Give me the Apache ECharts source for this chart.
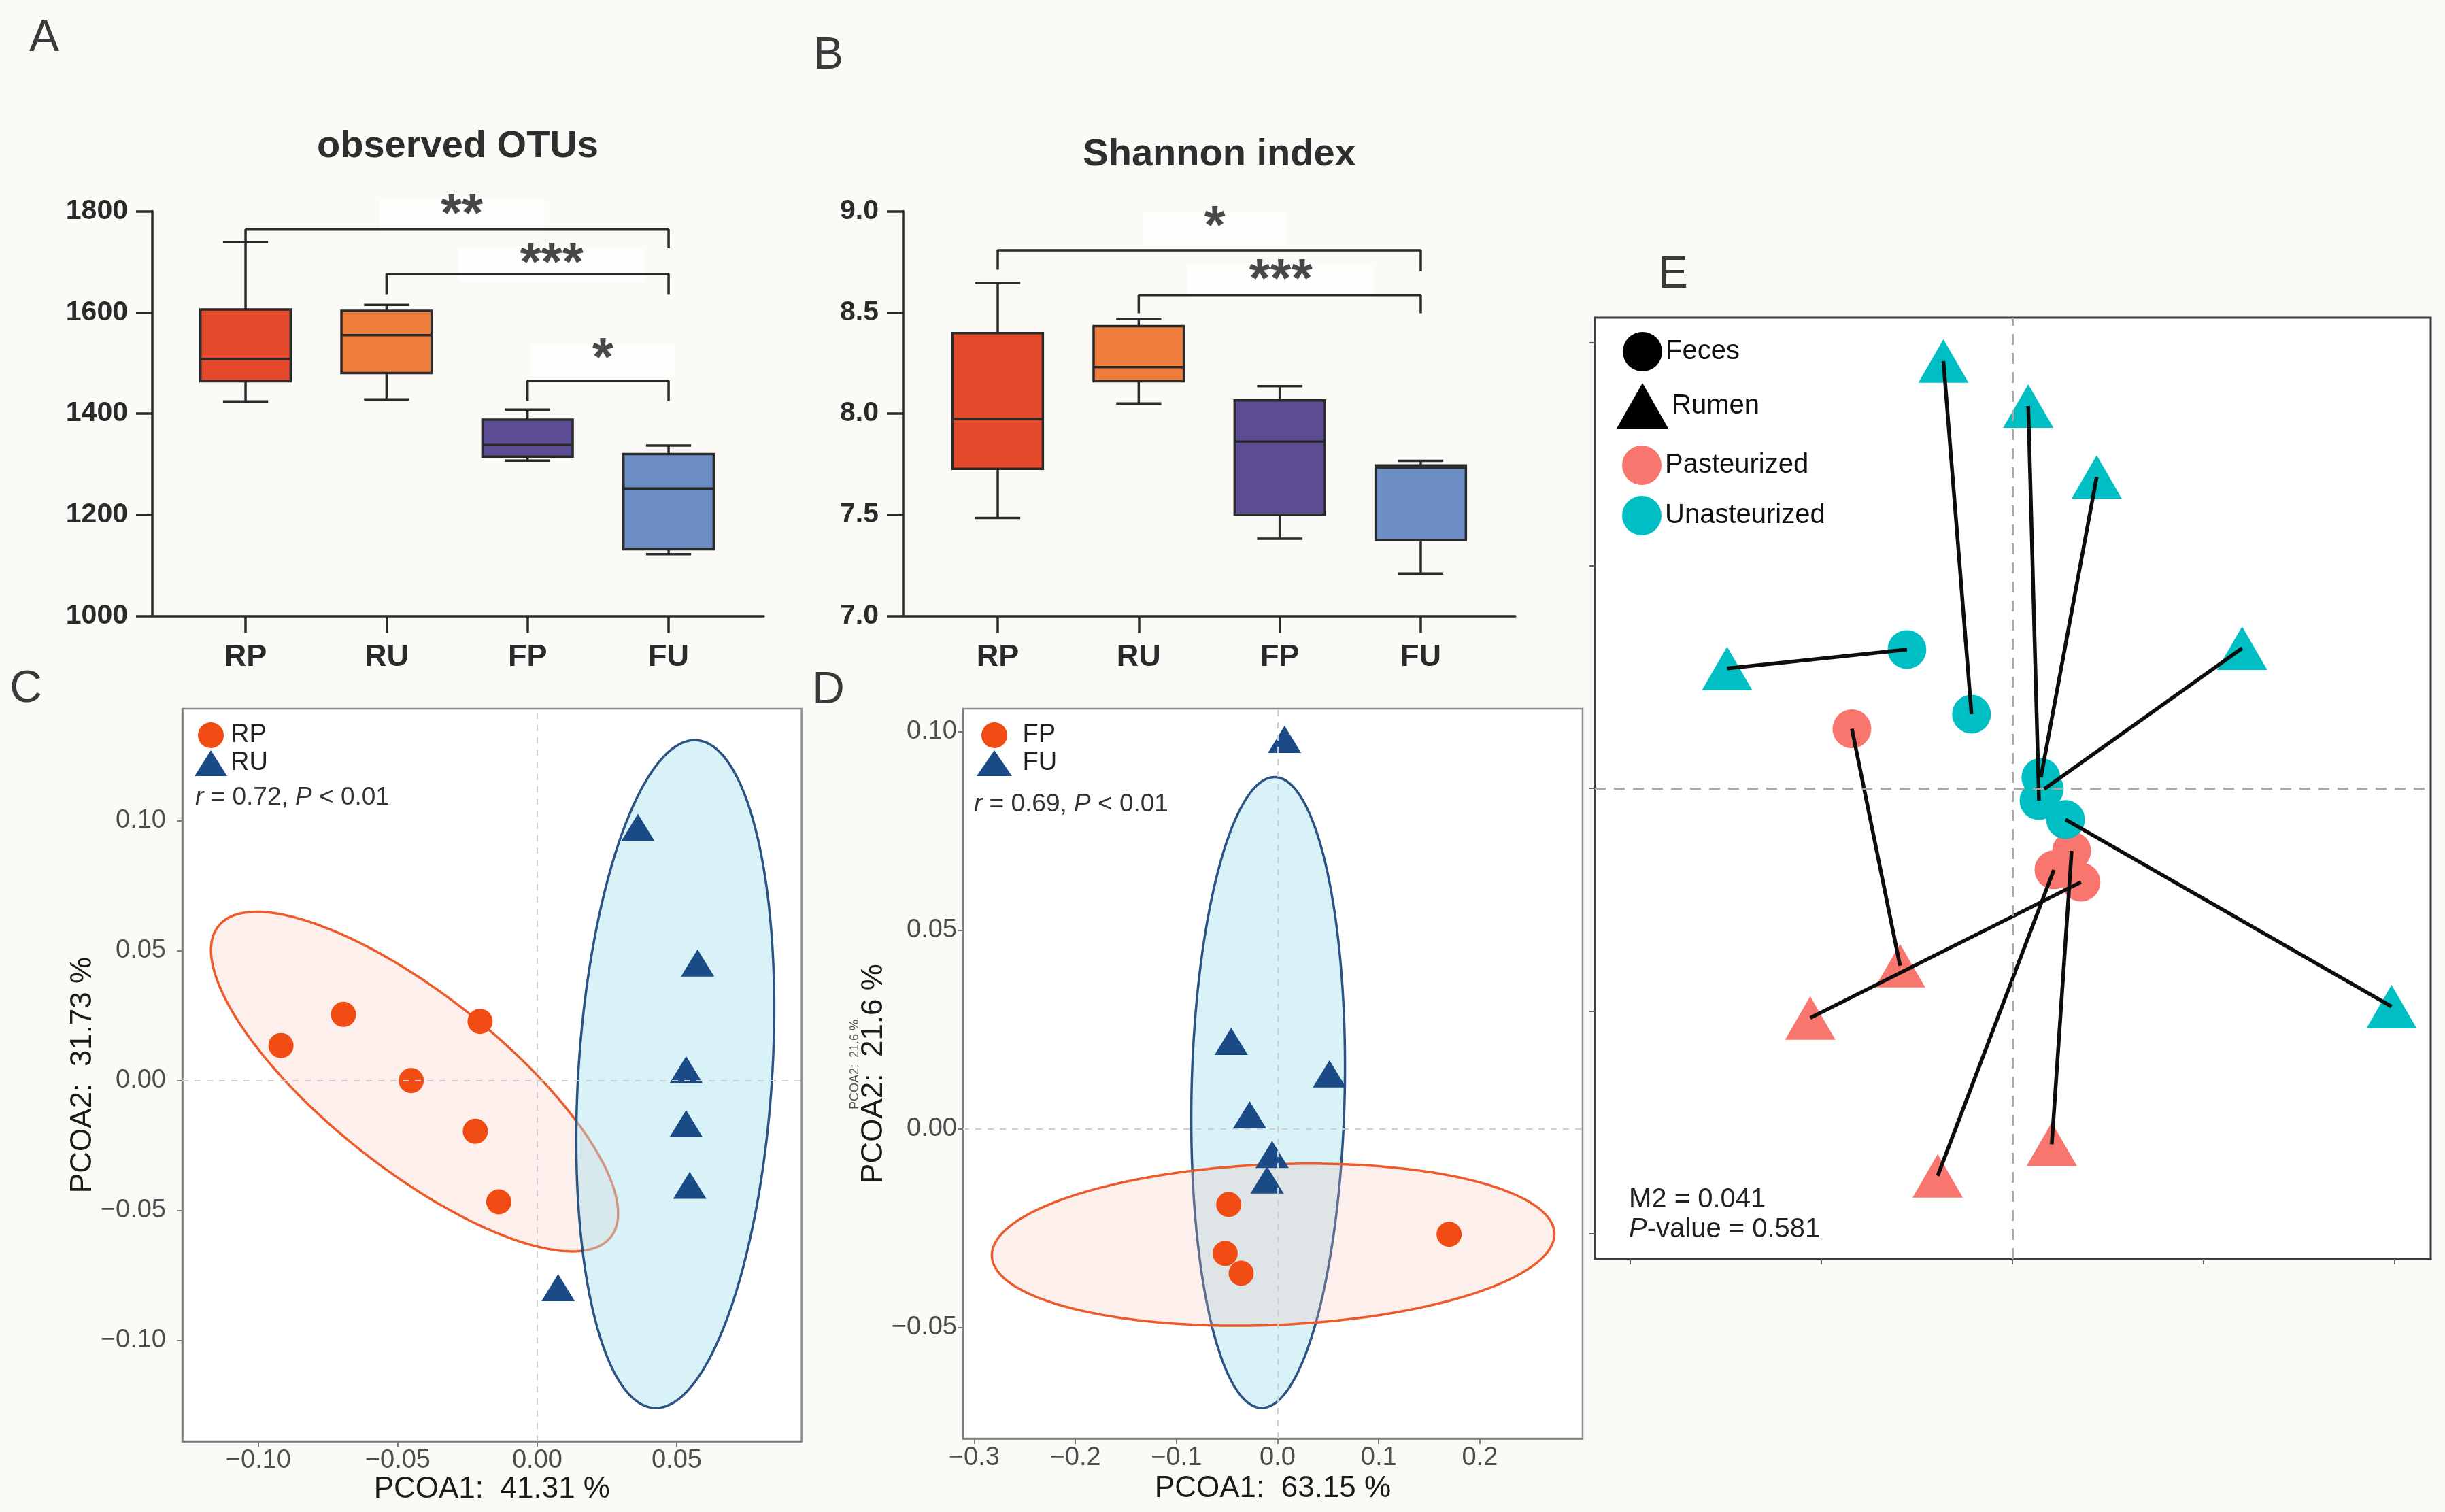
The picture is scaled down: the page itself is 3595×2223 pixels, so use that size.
<!DOCTYPE html>
<html><head><meta charset="utf-8">
<script src="https://cdn.jsdelivr.net/npm/echarts@6/dist/echarts.min.js"></script>
<style>html,body{margin:0;padding:0;background:#fbfaf6}#c{width:3595px;height:2223px}</style>
</head><body><div id="c"></div>
<script>
// ---------------- DATA ----------------
const groups = ['RP', 'RU', 'FP', 'FU'];
// A: observed OTUs  [min, Q1, median, Q3, max]
const otuRP = [1424, 1464, 1508, 1606, 1739];
const otuRU = [1428, 1480, 1555, 1603, 1615];
const otuFP = [1307, 1315, 1338, 1388, 1408];
const otuFU = [1122, 1132, 1252, 1320, 1337];
const otuTicks = [1000, 1200, 1400, 1600, 1800];
// brackets: [fromGroup, toGroup, top, leftEnd, rightEnd]
const otuBrackets = [[1, 4, 1765, 1740, 1727], [2, 4, 1676, 1636, 1636], [3, 4, 1465, 1425, 1425]];
const otuStars = ['**', '***', '*'];
const otuStarPos = [[2.534, 1817], [3.171, 1720], [3.533, 1532]];
// B: Shannon index
const shRP = [7.484, 7.727, 7.973, 8.398, 8.646];
const shRU = [8.050, 8.160, 8.230, 8.432, 8.468];
const shFP = [7.382, 7.500, 7.862, 8.065, 8.136];
const shFU = [7.210, 7.375, 7.733, 7.744, 7.767];
const shTicks = [7.0, 7.5, 8.0, 8.5, 9.0];
const shBrackets = [[1, 4, 8.807, 8.711, 8.704], [2, 4, 8.586, 8.496, 8.496]];
const shStars = ['*', '***'];
const shStarPos = [[2.539, 8.982], [3.007, 8.720]];
// C: PCoA rumen
const cRP = [[-0.0919, 0.0135], [-0.0695, 0.0255], [-0.0205, 0.0228], [-0.0452, 0.0], [-0.0222, -0.0195], [-0.0138, -0.0467]];
const cRU = [[0.0361, 0.0975], [0.0575, 0.0453], [0.0534, 0.0042], [0.0534, -0.0166], [0.0547, -0.0403], [0.0075, -0.0797]];
// ellipse: [cx, cy, halfExtentX, halfExtentY, correlation]
const cEllRP = [-0.044, -0.0004, 0.073, 0.0654, -0.775];
const cEllRU = [0.0495, 0.0025, 0.0355, 0.1286, 0.197];
const cTicksX = [-0.10, -0.05, 0.00, 0.05];
const cTicksY = [-0.10, -0.05, 0.00, 0.05, 0.10];
// D: PCoA feces
const dFP = [[-0.0483, -0.0191], [-0.0518, -0.0314], [-0.036, -0.0364], [0.1696, -0.0266]];
const dFU = [[0.0069, 0.098], [-0.0459, 0.022], [0.0513, 0.0138], [-0.0276, 0.0035], [-0.0054, -0.0065], [-0.0104, -0.0129]];
const dEllFP = [-0.0044, -0.0292, 0.2781, 0.0204, 0.13];
const dEllFU = [-0.00935, 0.0091, 0.076, 0.0794, 0.083];
const dTicksX = [-0.3, -0.2, -0.1, 0.0, 0.1, 0.2];
const dTicksY = [-0.05, 0.00, 0.05, 0.10];
// E: Procrustes (feces point i paired with rumen point i)
const eFecesP = [[-0.084, 0.0267], [0.0359, -0.0421], [0.0217, -0.0366], [0.031, -0.0281]];
const eRumenP = [[-0.0588, -0.0796], [-0.1058, -0.1031], [-0.0391, -0.174], [0.0206, -0.1598]];
const eFecesU = [[-0.0552, 0.0623], [-0.0214, 0.0333], [0.0139, -0.0055], [0.0149, 0.0049], [0.0167, -0.0003], [0.0278, -0.014]];
const eRumenU = [[-0.1493, 0.0538], [-0.0361, 0.1918], [0.0083, 0.1716], [0.0441, 0.1398], [0.1202, 0.0629], [0.1984, -0.098]];
const eTicks = [-0.2, -0.1, 0.0, 0.1, 0.2];

// ---------------- STYLE ----------------
const FONT = '"Liberation Sans", Arial, sans-serif';
const boxColors = ['#E4492C', '#EE7D3B', '#5B4C93', '#6B8DC4'];
const INK = '#2a2a2a';
const ORANGE = '#F04C13', NAVY = '#1A4B86';
const PINK = '#F8766D', CYAN = '#00BFC4';

function boxSeries(gi, stats) {
  return {
    type: 'custom', xAxisIndex: gi, yAxisIndex: gi, silent: true,
    data: stats.map((s, i) => [i + 1].concat(s)),
    encode: { x: 0, y: [1, 2, 3, 4, 5] },
    renderItem(params, api) {
      const x = api.value(0);
      const pMin = api.coord([x, api.value(1)]), pQ1 = api.coord([x, api.value(2)]);
      const pMd = api.coord([x, api.value(3)]), pQ3 = api.coord([x, api.value(4)]);
      const pMax = api.coord([x, api.value(5)]);
      const hw = api.size([0.64, 0])[0] / 2, cw = api.size([0.32, 0])[0] / 2;
      const cx = pMd[0];
      const ls = { stroke: INK, lineWidth: 3.5 };
      return { type: 'group', children: [
        { type: 'line', shape: { x1: cx, y1: pMax[1], x2: cx, y2: pQ3[1] }, style: ls },
        { type: 'line', shape: { x1: cx, y1: pQ1[1], x2: cx, y2: pMin[1] }, style: ls },
        { type: 'line', shape: { x1: cx - cw, y1: pMax[1], x2: cx + cw, y2: pMax[1] }, style: ls },
        { type: 'line', shape: { x1: cx - cw, y1: pMin[1], x2: cx + cw, y2: pMin[1] }, style: ls },
        { type: 'rect', shape: { x: cx - hw, y: pQ3[1], width: 2 * hw, height: pQ1[1] - pQ3[1] },
          style: { fill: boxColors[params.dataIndex], stroke: INK, lineWidth: 3.5 } },
        { type: 'line', shape: { x1: cx - hw, y1: pMd[1], x2: cx + hw, y2: pMd[1] }, style: ls }
      ] };
    }
  };
}
function bracketSeries(gi, b) {
  return {
    type: 'line', xAxisIndex: gi, yAxisIndex: gi, symbol: 'none', silent: true, clip: false, z: 3,
    lineStyle: { color: INK, width: 3.5 },
    data: [[b[0], b[3]], [b[0], b[2]], [b[1], b[2]], [b[1], b[4]]]
  };
}
function starSeries(gi, stars, pos) {
  return {
    type: 'scatter', xAxisIndex: gi, yAxisIndex: gi, symbolSize: 2, silent: true, clip: false,
    itemStyle: { color: 'rgba(0,0,0,0)' }, z: 2,
    data: pos.map((p, i) => ({ name: stars[i], value: p })),
    label: { show: true, position: [1, 21], align: 'center', verticalAlign: 'middle', formatter: '{b}',
      fontSize: 80, fontWeight: 'bold', fontFamily: FONT,
      color: '#1a1a1a', backgroundColor: '#ffffff', lineHeight: 12, padding: [30, 90, 6, 90] }
  };
}
function ellipseSeries(gi, ell, stroke, fill) {
  return {
    type: 'custom', xAxisIndex: gi, yAxisIndex: gi, silent: true, z: 1,
    data: [ell], encode: { x: 0, y: 1 },
    renderItem(params, api) {
      const cx = api.value(0), cy = api.value(1), hx = api.value(2), hy = api.value(3), r = api.value(4);
      const k = Math.sqrt(1 - r * r);
      const pts = [];
      for (let i = 0; i < 240; i++) {
        const t = i / 240 * 2 * Math.PI;
        pts.push(api.coord([cx + hx * Math.cos(t), cy + hy * (r * Math.cos(t) + k * Math.sin(t))]));
      }
      return { type: 'polygon', shape: { points: pts }, style: { fill: fill, stroke: stroke, lineWidth: 3.5 } };
    }
  };
}
const zeroLines = (color, width, dash) => ({
  silent: true, symbol: 'none', label: { show: false },
  lineStyle: { color: color, width: width, type: dash, opacity: 1 },
  emphasis: { disabled: true },
  data: [{ xAxis: 0 }, { yAxis: 0 }]
});
const minusFmt = d => v => (v < -1e-9 ? '\u2212' : '') + Math.abs(v).toFixed(d);

function boxXAxis(gi, min, max) {
  return {
    type: 'value', gridIndex: gi, min: min, max: max, splitLine: { show: false },
    axisLine: { show: true, onZero: false, lineStyle: { color: INK, width: 3.5 } },
    axisTick: { show: true, customValues: [1, 2, 3, 4], length: 25, lineStyle: { color: INK, width: 3.5 } },
    axisLabel: { customValues: [1, 2, 3, 4], formatter: v => groups[Math.round(v) - 1],
      fontSize: 45, fontWeight: 'bold', color: INK, margin: 38, fontFamily: FONT }
  };
}
function boxYAxis(gi, ticks, fmt) {
  return {
    type: 'value', gridIndex: gi, min: ticks[0], max: ticks[ticks.length - 1],
    interval: ticks[1] - ticks[0], splitLine: { show: false },
    axisLine: { show: true, onZero: false, lineStyle: { color: INK, width: 3.5 } },
    axisTick: { show: true, length: 24, lineStyle: { color: INK, width: 3.5 } },
    axisLabel: { formatter: fmt, fontSize: 41, fontWeight: 'bold', color: INK, margin: 36, fontFamily: FONT }
  };
}
function pcoaAxis(gi, min, max, ticks, dec, margin, name, nameGap) {
  return {
    type: 'value', gridIndex: gi, min: min, max: max, splitLine: { show: false },
    axisLine: { show: true, onZero: false, lineStyle: { color: '#7a7a7a', width: 2.5 } },
    axisTick: { show: true, customValues: ticks, length: 8, lineStyle: { color: '#7a7a7a', width: 2 } },
    axisLabel: { customValues: ticks, formatter: minusFmt(dec), fontSize: 38, color: '#4d4d4d', margin: margin, fontFamily: FONT },
    name: name, nameLocation: 'middle', nameGap: nameGap,
    nameTextStyle: { fontSize: 44, color: '#1a1a1a', fontFamily: FONT }
  };
}
function eAxis(gi, min, max) {
  return {
    type: 'value', gridIndex: gi, min: min, max: max, splitLine: { show: false },
    axisLine: { show: true, onZero: false, lineStyle: { color: '#3d3d3d', width: 3 } },
    axisTick: { show: true, customValues: eTicks, length: 8, lineStyle: { color: '#666', width: 2 } },
    axisLabel: { show: false }
  };
}
const txt = (x, y, text, font, fill, align, extra) => ({
  type: 'text', x: x, y: y, silent: true,
  style: Object.assign({ text: text, font: font, fill: fill || '#333', align: align || 'center', verticalAlign: 'middle' }, extra || {})
});

const option = {
  animation: false,
  backgroundColor: '#fbfaf6',
  textStyle: { fontFamily: FONT },
  grid: [
    { left: 224, top: 310.6, width: 899, height: 595, outerBoundsMode: 'none' },
    { left: 1328, top: 310.6, width: 900, height: 595, outerBoundsMode: 'none' },
    { left: 268, top: 1042, width: 910.6, height: 1077, show: true, backgroundColor: '#ffffff', borderColor: '#8a8a8a', borderWidth: 2.5, outerBoundsMode: 'none' },
    { left: 1416, top: 1042, width: 911, height: 1073, show: true, backgroundColor: '#ffffff', borderColor: '#8a8a8a', borderWidth: 2.5, outerBoundsMode: 'none' },
    { left: 2345, top: 467, width: 1229, height: 1384, show: true, backgroundColor: '#ffffff', borderColor: '#3d3d3d', borderWidth: 3, outerBoundsMode: 'none' }
  ],
  xAxis: [
    boxXAxis(0, 0.339, 4.675),
    boxXAxis(1, 0.3295, 4.6705),
    pcoaAxis(2, -0.1273, 0.0948, cTicksX, 2, 10, 'PCOA1:  41.31 %', 48),
    pcoaAxis(3, -0.311, 0.3016, dTicksX, 1, 10, 'PCOA1:  63.15 %', 52),
    eAxis(4, -0.2185, 0.2189)
  ],
  yAxis: [
    boxYAxis(0, otuTicks, v => String(v)),
    boxYAxis(1, shTicks, v => v.toFixed(1)),
    pcoaAxis(2, -0.1389, 0.1432, cTicksY, 2, 24, 'PCOA2:  31.73 %', 101),
    pcoaAxis(3, -0.078, 0.1057, dTicksY, 2, 9, 'PCOA2:  21.6 %', 96),
    eAxis(4, -0.2113, 0.2113)
  ],
  legend: [
    { left: 281, top: 1057, orient: 'vertical', itemWidth: 48, itemHeight: 38, itemGap: 3, selectedMode: false,
      textStyle: { fontSize: 38, color: '#222', fontFamily: FONT },
      data: [{ name: 'RP', icon: 'circle' }, { name: 'RU', icon: 'triangle' }] },
    { left: 1431, top: 1057, orient: 'vertical', itemWidth: 52, itemHeight: 38, itemGap: 3, selectedMode: false,
      formatter: n => ' ' + n,
      textStyle: { fontSize: 38, color: '#222', fontFamily: FONT },
      data: [{ name: 'FP', icon: 'circle' }, { name: 'FU', icon: 'triangle' }] },
    { left: 2381, top: 483, itemWidth: 58, itemHeight: 58, selectedMode: false,
      textStyle: { fontSize: 40, color: '#111', fontFamily: FONT },
      data: [{ name: 'Feces', icon: 'circle', itemStyle: { color: '#000', opacity: 1 } }] },
    { left: 2372, top: 558, itemWidth: 76, itemHeight: 67, selectedMode: false,
      textStyle: { fontSize: 40, color: '#111', fontFamily: FONT },
      data: [{ name: 'Rumen', icon: 'triangle', itemStyle: { color: '#000', opacity: 1 } }] },
    { left: 2380, top: 650, orient: 'vertical', itemWidth: 58, itemHeight: 58, itemGap: 16, selectedMode: false,
      textStyle: { fontSize: 40, color: '#111', fontFamily: FONT },
      data: [{ name: 'Pasteurized', icon: 'circle' }, { name: 'Unasteurized', icon: 'circle' }] }
  ],
  graphic: [
    txt(65, 57, 'A', '66px ' + FONT, '#3a3a3a'),
    txt(1218, 83, 'B', '66px ' + FONT, '#3a3a3a'),
    txt(38, 1014, 'C', '66px ' + FONT, '#3a3a3a'),
    txt(1218, 1016, 'D', '66px ' + FONT, '#3a3a3a'),
    txt(2460, 405, 'E', '66px ' + FONT, '#3a3a3a'),
    txt(673, 216, 'observed OTUs', 'bold 56px ' + FONT, '#2e2e2e'),
    txt(1793, 228, 'Shannon index', 'bold 56px ' + FONT, '#2e2e2e'),
    txt(287, 1173, '{i|r} = 0.72, {i|P} < 0.01', '37px ' + FONT, '#333', 'left',
      { rich: { i: { fontStyle: 'italic', fontSize: 37, fontFamily: FONT, fill: '#333' } } }),
    txt(1432, 1183, '{i|r} = 0.69, {i|P} < 0.01', '37px ' + FONT, '#333', 'left',
      { rich: { i: { fontStyle: 'italic', fontSize: 37, fontFamily: FONT, fill: '#333' } } }),
    txt(2395, 1764, 'M2 = 0.041', '40px ' + FONT, '#222', 'left'),
    txt(2395, 1808, '{i|P}-value = 0.581', '40px ' + FONT, '#222', 'left',
      { rich: { i: { fontStyle: 'italic', fontSize: 40, fontFamily: FONT, fill: '#222' } } }),
    Object.assign(txt(1257, 1565, 'PCOA2:  21.6 %', '18px ' + FONT, '#555'), { rotation: Math.PI / 2 })
  ],
  series: [
    // A
    boxSeries(0, [otuRP, otuRU, otuFP, otuFU]),
    starSeries(0, otuStars, otuStarPos),
    ...otuBrackets.map(b => bracketSeries(0, b)),
    // B
    boxSeries(1, [shRP, shRU, shFP, shFU]),
    starSeries(1, shStars, shStarPos),
    ...shBrackets.map(b => bracketSeries(1, b)),
    // C
    Object.assign(ellipseSeries(2, cEllRP, '#EE5A2A', 'rgba(245,190,180,0.25)'),
      { markLine: zeroLines('#d0d0d0', 2, [9, 9]) }),
    ellipseSeries(2, cEllRU, '#2B5384', 'rgba(170,226,240,0.45)'),
    { name: 'RP', type: 'scatter', xAxisIndex: 2, yAxisIndex: 2, symbol: 'circle', symbolSize: 37,
      itemStyle: { color: ORANGE, opacity: 1 }, data: cRP, z: 3 },
    { name: 'RU', type: 'scatter', xAxisIndex: 2, yAxisIndex: 2, symbol: 'triangle', symbolSize: [49, 40],
      itemStyle: { color: NAVY, opacity: 1 }, data: cRU, z: 3 },
    // D
    Object.assign(ellipseSeries(3, dEllFU, '#2B5384', 'rgba(170,226,240,0.45)'),
      { markLine: zeroLines('#d0d0d0', 2, [9, 9]) }),
    ellipseSeries(3, dEllFP, '#EE5A2A', 'rgba(245,190,180,0.25)'),
    { name: 'FP', type: 'scatter', xAxisIndex: 3, yAxisIndex: 3, symbol: 'circle', symbolSize: 37,
      itemStyle: { color: ORANGE, opacity: 1 }, data: dFP, z: 3 },
    { name: 'FU', type: 'scatter', xAxisIndex: 3, yAxisIndex: 3, symbol: 'triangle', symbolSize: [49, 40],
      itemStyle: { color: NAVY, opacity: 1 }, data: dFU, z: 3 },
    // E
    { name: 'Feces', type: 'scatter', xAxisIndex: 4, yAxisIndex: 4, symbol: 'circle', symbolSize: 57,
      itemStyle: { color: '#000', opacity: 1 }, data: [] },
    { name: 'Rumen', type: 'scatter', xAxisIndex: 4, yAxisIndex: 4, symbol: 'triangle', symbolSize: [74, 64],
      itemStyle: { color: '#000', opacity: 1 }, z: 3,
      data: eRumenP.map(p => ({ value: p, itemStyle: { color: PINK } }))
        .concat(eRumenU.map(p => ({ value: p, itemStyle: { color: CYAN } }))) },
    { name: 'Pasteurized', type: 'scatter', xAxisIndex: 4, yAxisIndex: 4, symbol: 'circle', symbolSize: 57,
      itemStyle: { color: PINK, opacity: 1 }, data: eFecesP, z: 3,
      markLine: zeroLines('#a8a8a8', 3, [16, 12]) },
    { name: 'Unasteurized', type: 'scatter', xAxisIndex: 4, yAxisIndex: 4, symbol: 'circle', symbolSize: 57,
      itemStyle: { color: CYAN, opacity: 1 }, data: eFecesU, z: 3 },
    { type: 'lines', coordinateSystem: 'cartesian2d', xAxisIndex: 4, yAxisIndex: 4, silent: true, z: 4,
      lineStyle: { color: '#0d0d0d', width: 5.5, opacity: 1 },
      data: eFecesP.map((p, i) => ({ coords: [p, eRumenP[i]] }))
        .concat(eFecesU.map((p, i) => ({ coords: [p, eRumenU[i]] }))) }
  ]
};
const chart = echarts.init(document.getElementById('c'), null, { renderer: 'canvas' });
chart.setOption(option);
</script></body></html>
